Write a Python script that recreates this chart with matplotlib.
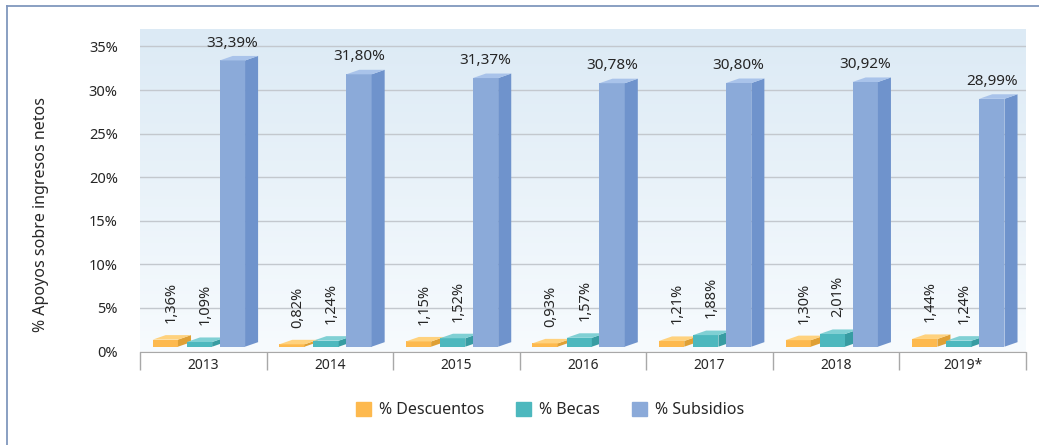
import numpy as np
import matplotlib
matplotlib.use('Agg')
import matplotlib.pyplot as plt
from matplotlib.patches import Polygon, Patch
from matplotlib.lines import Line2D

plt.rcParams['font.family'] = ['Noto Sans', 'DejaVu Sans']

years = ['2013', '2014', '2015', '2016', '2017', '2018', '2019*']
descuentos = [1.36, 0.82, 1.15, 0.93, 1.21, 1.30, 1.44]
becas = [1.09, 1.24, 1.52, 1.57, 1.88, 2.01, 1.24]
subsidios = [33.39, 31.80, 31.37, 30.78, 30.80, 30.92, 28.99]
yticks = [0, 5, 10, 15, 20, 25, 30, 35]

# name, values, offset of front face, (front, side, top) colours
series = [
    ('% Descuentos', descuentos, -0.40, ('#FDB94E', '#DFA035', '#FFD27E')),
    ('% Becas', becas, -0.13, ('#4DB8BE', '#379CA2', '#80D0D4')),
    ('% Subsidios', subsidios, 0.13, ('#8BAAD9', '#6F93CC', '#A9C3EA')),
]

W = 0.2      # front face width
DX = 0.103   # depth in x
DY = 0.52    # depth in y (%)
BASE = 0.55  # front face bottom
TXT = '#262626'

def fmt(v):
    return f'{v:.2f}'.replace('.', ',') + '%'

fig = plt.figure(figsize=(10.39, 4.45), dpi=100)
ax = fig.add_axes([140/1039, 1-351.5/445, 886/1039, (351.5-29)/445])

# background gradient
grad = np.linspace(0, 1, 256).reshape(-1, 1)
top = np.array([220, 234, 245]) / 255
bot = np.array([247, 251, 254]) / 255
img = (top * (1 - grad[..., None]) + bot * grad[..., None]).reshape(256, 1, 3)
ax.imshow(img, extent=(-0.5, 6.55, 0, 37.0), aspect='auto', zorder=0)
ax.set_xlim(-0.5, 6.5)
ax.set_ylim(0, 37.0)

ax.set_yticks(yticks)
ax.set_yticklabels([f'{t}%' for t in yticks], fontsize=10.5, color=TXT)
ax.yaxis.grid(True, color='#c3c8ce', lw=1)
ax.set_axisbelow(True)
ax.tick_params(axis='y', length=0, pad=16)

ax.set_xticks(range(len(years)))
ax.set_xticklabels(years, fontsize=10, color=TXT)
ax.tick_params(axis='x', length=0, pad=5)

for s in ['top', 'right', 'left']:
    ax.spines[s].set_visible(False)
ax.spines['bottom'].set_color('#a8a8a8')
ax.spines['bottom'].set_zorder(1)

# category separators
ax.vlines(np.arange(-0.5, 7, 1), 0, -0.056, transform=ax.get_xaxis_transform(),
          colors='#a8a8a8', lw=1, clip_on=False)

x = np.arange(len(years))
for name, vals, off, (cf, cs, ct) in series:
    x0 = x + off
    ax.bar(x0, np.array(vals) - BASE, bottom=BASE, width=W, align='edge',
           color=cf, zorder=3, lw=0)
    for xi, v in zip(x0, vals):
        x1 = xi + W
        side = [(x1, BASE), (x1 + DX, BASE + DY), (x1 + DX, v + DY), (x1, v)]
        topf = [(xi, v), (xi + DX, v + DY), (x1 + DX, v + DY), (x1, v)]
        ax.add_patch(Polygon(side, closed=True, fc=cs, ec='none', zorder=3))
        ax.add_patch(Polygon(topf, closed=True, fc=ct, ec='none', zorder=3))
        if name == '% Subsidios':
            ax.annotate(fmt(v), (xi + W / 2, v), xytext=(0, 10),
                        textcoords='offset points', ha='center', va='baseline',
                        fontsize=11, color=TXT, zorder=5)
        else:
            ax.annotate(fmt(v), (xi + W / 2, v), xytext=(4, 12),
                        textcoords='offset points', ha='center', va='bottom',
                        rotation=90, fontsize=10.5, color=TXT, zorder=5)

fig.text(41/1039, 1-214/445, '% Apoyos sobre ingresos netos', rotation=90,
         ha='center', va='center', fontsize=11.5, color=TXT)

handles = [Patch(color=c[0], label=n) for n, _, _, c in series]
fig.legend(handles=handles, loc='center', bbox_to_anchor=(550/1039, 1-410/445),
           ncol=3, frameon=False, fontsize=11.5, handlelength=0.95,
           handleheight=0.95, handletextpad=0.5, columnspacing=2.0,
           labelcolor=TXT)

# outer border (top and left)
fig.add_artist(Line2D([7/1039, 7/1039], [0, 1-6/445], color='#8097bd', lw=1.3))
fig.add_artist(Line2D([7/1039, 1], [1-6/445, 1-6/445], color='#8097bd', lw=1.3))

fig.savefig('out.png', dpi=100)
